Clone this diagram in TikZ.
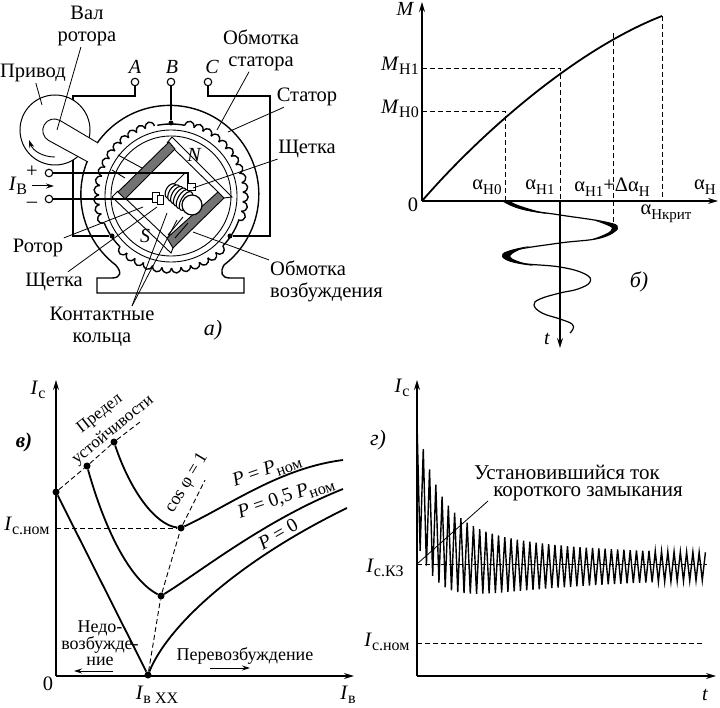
\documentclass[tikz,border=0pt]{standalone}
\usepackage{fontspec}
\setmainfont{Liberation Serif}
\usetikzlibrary{arrows.meta}
\newcommand{\idx}[2]{\textit{#1}\raisebox{-0.22em}{\fontsize{16}{16}\selectfont #2}}
\newcommand{\adx}[1]{α\raisebox{-0.22em}{\fontsize{15}{15}\selectfont #1}}
\tikzset{
    lbl/.style={inner sep=1pt,align=center,font=\fontsize{20.5}{22}\selectfont},
    letter/.style={lbl,font=\fontsize{20}{20}\itshape\selectfont},
    panel/.style={lbl,font=\fontsize{22}{22}\itshape\selectfont},
    tilted/.style={lbl,font=\fontsize{17}{17}\selectfont},
    heavy/.style={line width=1.4pt},
    thinline/.style={line width=0.9pt},
    leader/.style={line width=0.8pt},
    curve/.style={line width=1.8pt},
    guide/.style={line width=0.9pt,dash pattern=on 5pt off 3pt},
    axis/.style={line width=1.3pt,-{Stealth[length=10pt,width=6pt]}},
    mover/.style={line width=1pt,-{Stealth[length=8pt,width=5pt]}},
    dot/.style={circle,fill=black,inner sep=0pt,minimum size=7pt},
    clamp/.style={circle,draw,fill=white,line width=1.1pt,inner sep=0pt,minimum size=7.5pt}
}
\begin{document}
\begin{tikzpicture}[x=1pt,y=-1pt,
    declare function={
        hitop(\x)=10+90*exp(-\x/20)+42*exp(-\x/90);
        lobot(\x)=12+30*exp(-\x/150)-65*exp(-\x/18);
    }]
    \useasboundingbox (0,0) rectangle (720,708);
    %--- machine
    \coordinate (ctr) at (171,196);
    \draw[heavy] (224,265) arc[start angle=-52.5,end angle=232.5,radius=89pt]
        .. controls (122,272) and (121,278) .. (112,278) -- (97,278) -- (97,293) -- (244,293) -- (244,278) -- (230,278)
        .. controls (221,278) and (220,272) .. (224,265);
    \draw[thinline] (ctr) circle[radius=66pt];
    \draw[thinline] (ctr) circle[radius=60pt];
    % stator winding
    \foreach \s/\n in {-79/13,44/12,158/13}
    \foreach \k in {1,...,\n}{
        \draw[heavy] ([shift={(\s+7.6*\k-7.6:72)}]ctr) .. controls ([shift={(\s+7.6*\k-6.6:79)}]ctr) and ([shift={(\s+7.6*\k-1:79)}]ctr) .. ([shift={(\s+7.6*\k:72)}]ctr);
    }
    \foreach \a/\b in {-101/-79,19/44,135/158}
        \draw[heavy,domain=\a:\b,samples=8] plot ({171+72*cos(\x)},{196+72*sin(\x)});
    % frame and terminals
    \node[clamp] (termA) at (135,82) {};
    \node[clamp] (termB) at (171,82) {};
    \node[clamp] (termC) at (208,82) {};
    \node[dot,minimum size=5pt] (nodeB) at (171,123) {};
    \node[dot,minimum size=5pt] (nodeA) at (112,236) {};
    \node[dot,minimum size=5pt] (nodeC) at (230,236) {};
    \draw[heavy] (termA) -- (135,96) -- (73,96) -- (73,236) -- (nodeA);
    \draw[heavy] (termB) -- (nodeB);
    \draw[heavy] (termC) -- (208,96) -- (270,96) -- (270,236) -- (nodeC);
    % rotor poles
    \draw[thinline] (167,143) -- (172,137) -- (232,197) -- (224,198);
    \draw[thinline] (175,150) -- (218,192);
    \draw[thinline] (118,191) -- (112,197) -- (171,253) -- (173,248);
    \draw[thinline] (125,198) -- (167,238);
    \draw[thinline,fill=black!55] (169,142) -- (175,149) -- (125,199) -- (118,192) -- cycle;
    \draw[thinline,fill=black!55] (218,192) -- (224,198) -- (173,248) -- (167,238) -- cycle;
    \draw[thinline] (118,155) -- (142,168);
    \draw[thinline] (112,170) -- (125,178);
    \draw[thinline] (168,235) -- (183,217);
    \draw[thinline] (175,238) -- (188,223);
    % drive
    \node[circle,draw,fill=white,line width=1pt,inner sep=0pt,minimum size=70pt] (drive) at (55,130) {};
    \draw[thinline,fill=white] (98,143) -- (60,120.5) arc[start angle=60,end angle=240,radius=11.5pt] -- (88,162);
    \draw[thinline,{Stealth[length=8pt,width=5pt]}-] (29,140) .. controls (33,151) and (43,157) .. (55,157);
    % slip rings and brushes
    \node[clamp] (termP) at (49,173) {};
    \node[clamp] (termM) at (49,199) {};
    \draw[heavy] (termP) -- (188,173) -- (188,187);
    \draw[thinline] (185,173) -- (173,185);
    \draw[heavy] (termM) -- (152,199);
    \foreach \x/\y/\rr in {171/191/8,174/193/9,177/195/9.5,180/197/10,183/199/10.5,186/201/10.5}
        \draw[line width=1.1pt,fill=white,shift={(\x,\y)},rotate=-30] (0,0) ellipse[x radius=5pt,y radius=\rr pt];
    \draw[line width=1.2pt,fill=white] (192,205) circle[radius=10pt];
    \draw[line width=1pt,fill=white] (152,193) rectangle (159,203);
    \draw[line width=1pt,fill=white] (157,196) rectangle (163,205);
    \draw[line width=1pt,fill=white] (187,184) rectangle (195,191);
    % labels of the machine
    \node[lbl] (shaftlbl) at (87,26) {Вал\\ротора};
    \node[lbl] (drivelbl) at (33,73) {Привод};
    \node[lbl] (windlbl) at (261,50) {Обмотка\\статора};
    \node[letter] (lblA) at (135,67) {A};
    \node[letter] (lblB) at (172,67) {B};
    \node[letter] (lblC) at (212,67) {C};
    \node[lbl] (statlbl) at (307,97) {Статор};
    \node[lbl] (brushlbl) at (307,149) {Щетка};
    \node[letter] (lblN) at (194,155) {N};
    \node[letter] (lblS) at (145,236) {S};
    \node[lbl] (rotlbl) at (38,248) {Ротор};
    \node[lbl] (brushtwo) at (54,282) {Щетка};
    \node[lbl,anchor=west,align=left] (exclbl) at (269,281) {Обмотка\\возбуждения};
    \node[lbl] (ringlbl) at (102,327) {Контактные\\кольца};
    \node[panel] (panelA) at (213,330) {а)};
    \node[lbl] (plus) at (32,172) {+};
    \node[lbl] (minus) at (32,205) {--};
    \node[lbl] (excur) at (18,186) {\idx{I}{В}};
    \coordinate (arrA) at (32,186);
    \coordinate (arrB) at (54,186);
    \draw[mover] (arrA) -- (arrB);
    \coordinate (ptshaft) at (57,130);
    \coordinate (ptdrive) at (42,105);
    \coordinate (ptwind) at (217,130);
    \coordinate (ptstat) at (228,132);
    \coordinate (ptbrush) at (193,188);
    \coordinate (ptrot) at (143,207);
    \coordinate (ptbrushb) at (157,207);
    \coordinate (ptexc) at (193,232);
    \coordinate (ptringa) at (167,213);
    \coordinate (ptringb) at (177,220);
    \draw[leader] (shaftlbl) -- (ptshaft);
    \draw[leader] (drivelbl) -- (ptdrive);
    \draw[leader] (windlbl) -- (ptwind);
    \draw[leader] (statlbl) -- (ptstat);
    \draw[leader] (brushlbl) -- (ptbrush);
    \draw[leader] (rotlbl) -- (ptrot);
    \draw[leader] (brushtwo) -- (ptbrushb);
    \draw[leader] (exclbl) -- (ptexc);
    \coordinate (ringfoot) at (132,306);
    \draw[leader] (ringfoot) -- (ptringa);
    \draw[leader] (ringfoot) -- (ptringb);
    %--- angle curve
    \coordinate (ob) at (422,201);
    \coordinate (mtop) at (422,2);
    \coordinate (aend) at (718,201);
    \coordinate (ttip) at (560,348);
    \coordinate (mzero) at (505,111);
    \coordinate (mone) at (560,68);
    \coordinate (mtwo) at (613,33);
    \coordinate (mkrit) at (662,16);
    \draw[axis] (ob) -- (mtop);
    \draw[axis] (ob) -- (aend);
    \draw[axis] (mone |- ob) -- (ttip);
    \draw[curve] (ob) .. controls (480,134) and (575,50) .. (mkrit);
    \draw[guide] (ob |- mzero) -- (mzero) -- (mzero |- ob);
    \draw[guide] (ob |- mone) -- (mone) -- (mone |- ob);
    \draw[guide] (mtwo) -- (613,226);
    \draw[guide] (mkrit) -- (mkrit |- ob);
    \draw[line width=1.2pt] plot[smooth,tension=0.7] coordinates {(503,201) (522,209) (560,215) (605,222) (617,228) (600,238) (560,243) (515,250) (503,256) (520,263) (560,267) (585,274) (590,282) (578,289) (560,293) (540,299) (534,305) (542,313) (560,319) (572,324) (573,329) (570,333)};
    \fill (503,200) .. controls (510,208) and (530,212) .. (548,214) .. controls (530,209) and (515,205) .. (510,201) -- cycle;
    \fill (596,221) .. controls (610,222) and (620,226) .. (618,229) .. controls (614,234) and (605,237) .. (590,240) .. controls (604,235) and (612,232) .. (612,228) .. controls (610,226) and (604,224) .. (596,221) -- cycle;
    \fill (530,246) .. controls (510,249) and (500,253) .. (502,257) .. controls (506,262) and (518,264) .. (534,266) .. controls (520,262) and (510,259) .. (510,256) .. controls (512,253) and (520,249) .. (530,246) -- cycle;
    \node[letter] (mlbl) at (405,9) {M};
    \node[lbl,anchor=east] (mhone) at (420,66) {\idx{M}{Н1}};
    \node[lbl,anchor=east] (mhzero) at (420,109) {\idx{M}{Н0}};
    \node[lbl] (zerob) at (413,205) {0};
    \node[lbl] (azero) at (487,187) {\adx{Н0}};
    \node[lbl] (aone) at (540,187) {\adx{Н1}};
    \node[lbl] (atwo) at (612,187) {\adx{Н1}+Δ\adx{Н}};
    \node[lbl] (ahor) at (705,187) {\adx{Н}};
    \node[lbl] (akrit) at (666,214) {\adx{Нкрит}};
    \node[panel] (panelB) at (639,282) {б)};
    \node[letter] (tlbl) at (547,339) {t};
    %--- V-curves
    \coordinate (oc) at (56,676);
    \coordinate (ictop) at (56,380);
    \coordinate (ibend) at (354,676);
    \coordinate (limitend) at (140,422);
    \coordinate (cosend) at (205,480);
    \coordinate (pzero) at (347,508);
    \coordinate (phalf) at (343,489);
    \coordinate (pfull) at (343,460);
    \draw[axis] (oc) -- (ictop);
    \draw[axis] (oc) -- (ibend);
    \node[dot] (lz) at (56,492) {};
    \node[dot] (lh) at (87,466) {};
    \node[dot] (lf) at (114,442) {};
    \node[dot] (vz) at (148,675) {};
    \node[dot] (vh) at (161,596) {};
    \node[dot] (vf) at (181,528) {};
    \draw[curve] (lz) -- (vz);
    \draw[curve] (vz) .. controls (168,625) and (240,560) .. (pzero);
    \draw[curve] (lh) .. controls (105,530) and (130,580) .. (vh);
    \draw[curve] (vh) .. controls (200,572) and (265,520) .. (phalf);
    \draw[curve] (lf) .. controls (130,490) and (155,525) .. (vf);
    \draw[curve] (vf) .. controls (230,505) and (280,468) .. (pfull);
    \draw[guide] (lz) -- (lh) -- (lf) -- (limitend);
    \draw[guide] (vz) -- (vh) -- (vf) -- (cosend);
    \draw[guide] (oc |- vf) -- (vf);
    \node[lbl] (icl) at (38,390) {\idx{I}{с}};
    \node[panel,font=\fontsize{21}{21}\itshape\bfseries\selectfont] (panelC) at (24,442) {в)};
    \node[tilted,rotate=38] (limitone) at (100,414) {Предел};
    \node[tilted,rotate=39] (limittwo) at (113,430) {устойчивости};
    \node[lbl,font=\fontsize{18}{18}\selectfont,rotate=59] (coslbl) at (187,483) {cos φ = 1};
    \node[lbl,font=\fontsize{19.5}{20}\selectfont,rotate=19] (pf) at (267,471) {\textit{P} = \idx{P}{ном}};
    \node[lbl,font=\fontsize{19.5}{20}\selectfont,rotate=19] (ph) at (286,498) {\textit{P} = 0,5 \idx{P}{ном}};
    \node[lbl,font=\fontsize{19.5}{20}\selectfont,rotate=30] (pz) at (278,534) {\textit{P} = 0};
    \node[lbl] (icn) at (27,526) {\idx{I}{с.ном}};
    \node[lbl] (zeroc) at (48,684) {0};
    \node[lbl] (ibx) at (157,695) {\idx{I}{в ХХ}};
    \node[lbl] (ibl) at (348,695) {\idx{I}{в}};
    \node[lbl,font=\fontsize{18}{16}\selectfont] (under) at (100,643) {Недо-\\возбужде-\\ние};
    \node[lbl,font=\fontsize{18}{16}\selectfont] (over) at (245,656) {Перевозбуждение};
    \coordinate (arrC) at (113,671);
    \coordinate (arrD) at (74,671);
    \coordinate (arrE) at (210,668);
    \coordinate (arrF) at (250,668);
    \draw[mover] (arrC) -- (arrD);
    \draw[mover] (arrE) -- (arrF);
    %--- short circuit
    \coordinate (od) at (417,676);
    \coordinate (idtop) at (417,380);
    \coordinate (tend) at (716,676);
    \coordinate (kzpt) at (417,564);
    \coordinate (kzend) at (707,564);
    \coordinate (nomend) at (703,643);
    \draw[axis] (od) -- (idtop);
    \draw[axis] (od) -- (tend);
    \draw[guide] (kzpt) -- (kzend);
    \draw[guide] (od |- nomend) -- (nomend);
    \draw[line width=1.4pt] (417,422) \foreach \k in {0,...,45}{
        -- ({417+6.27*\k+3.13},{564+lobot(6.27*\k+3.13)})
        -- ({417+6.27*\k+6.27},{564-hitop(6.27*\k+6.27)})
    };
    \node[lbl] (icd) at (402,388) {\idx{I}{с}};
    \node[panel] (panelD) at (378,440) {г)};
    \node[lbl,font=\fontsize{21}{21}\selectfont] (steadya) at (567,472) {Установившийся ток};
    \node[lbl,font=\fontsize{21}{21}\selectfont] (steadyb) at (588,494) {короткого замыкания};
    \node[lbl] (iskz) at (385,568) {\idx{I}{с.КЗ}};
    \node[lbl] (isnom) at (387,642) {\idx{I}{с.ном}};
    \node[letter] (tlab) at (705,695) {t};
    \coordinate (steadyfoot) at (488,501);
    \draw[leader] (steadyfoot) -- (kzpt);
\end{tikzpicture}
\end{document}
